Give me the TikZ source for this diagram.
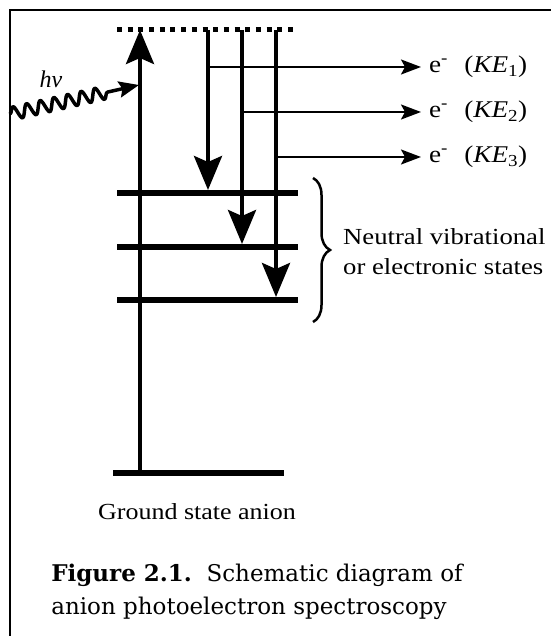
\documentclass[tikz,border=0pt]{standalone}
\usepackage{fontspec}
\newfontfamily\tnr{Liberation Serif}
\newfontfamily\capf{DejaVu Serif}
\usetikzlibrary{arrows.meta,decorations.pathmorphing,decorations.pathreplacing}
\newcommand\sx[1]{\scalebox{1.13}[1]{#1}}
\newcommand\sxx[1]{\scalebox{1.16}[1]{#1}}
\begin{document}
\begin{tikzpicture}[x=1pt,y=-1pt,
  frame/.style={line width=2pt},
  level/.style={line width=6pt},
  vline/.style={line width=4pt},
  bigarrow/.style={vline,-{Stealth[length=34pt,width=28pt,inset=6pt]}},
  branch/.style={line width=2pt,-{Stealth[length=20pt,width=15pt,inset=4pt]}},
  dotline/.style={line width=5pt,dash pattern=on 5pt off 5.69pt},
  lbl/.style={font=\tnr\fontsize{23}{30}\selectfont,inner sep=0pt},
  elbl/.style={font=\tnr\fontsize{24}{30}\selectfont,inner sep=0pt,anchor=west},
  captext/.style={font=\capf\fontsize{23}{33}\selectfont,inner sep=0pt}]
\useasboundingbox (0,0) rectangle (551,636);
% frame
\coordinate (fbl) at (10,636);
\coordinate (ftl) at (10,10);
\coordinate (ftr) at (551,10);
\draw[frame] (fbl) -- (ftl) -- (ftr);
% levels
\coordinate (tl) at (117,30); \coordinate (tr) at (293,30);
\coordinate (l1a) at (117,193); \coordinate (l1b) at (298,193);
\coordinate (l2a) at (117,247); \coordinate (l2b) at (298,247);
\coordinate (l3a) at (117,300); \coordinate (l3b) at (298,300);
\coordinate (ga) at (113,473); \coordinate (gb) at (284,473);
\draw[dotline] (tl) -- (tr);
\draw[level] (l1a) -- (l1b);
\draw[level] (l2a) -- (l2b);
\draw[level] (l3a) -- (l3b);
\draw[level] (ga) -- (gb);
% excitation
\coordinate (ub) at (140,473); \coordinate (ut) at (140,30);
\draw[bigarrow] (ub) -- (ut);
% detachment arrows
\coordinate (d1t) at (208,30); \coordinate (d1b) at (208,190);
\coordinate (d2t) at (242,30); \coordinate (d2b) at (242,244);
\coordinate (d3t) at (276,30); \coordinate (d3b) at (276,297);
\draw[bigarrow] (d1t) -- (d1b);
\draw[bigarrow] (d2t) -- (d2b);
\draw[bigarrow] (d3t) -- (d3b);
% electron branches
\coordinate (b1s) at (208,67); \coordinate (b1e) at (421,67);
\coordinate (b2s) at (242,112); \coordinate (b2e) at (421,112);
\coordinate (b3s) at (276,157); \coordinate (b3e) at (421,157);
\draw[branch] (b1s) -- (b1e);
\draw[branch] (b2s) -- (b2e);
\draw[branch] (b3s) -- (b3e);
\node[elbl] (e1) at (429,67) {\sx{e\textsuperscript{-}\hspace{0.6em}(\textit{KE}\textsubscript{1})}};
\node[elbl] (e2) at (429,112) {\sx{e\textsuperscript{-}\hspace{0.6em}(\textit{KE}\textsubscript{2})}};
\node[elbl] (e3) at (429,157) {\sx{e\textsuperscript{-}\hspace{0.6em}(\textit{KE}\textsubscript{3})}};
% photon
\coordinate (ws) at (10,114); \coordinate (we) at (139,85);
\draw[line width=3.5pt,line join=round,decorate,decoration={snake,amplitude=6.5pt,segment length=14pt,post length=26pt},
  -{Stealth[length=20pt,width=16pt,inset=3pt]}] (ws) -- (we);
\node[lbl,font=\tnr\fontsize{24}{30}\selectfont] (hv) at (51,79) {\itshape hν};
% brace
\coordinate (br1) at (313,178); \coordinate (br2) at (313,322);
\draw[line width=2.5pt,decorate,decoration={brace,amplitude=17pt}] (br1) -- (br2);
\node[lbl,anchor=west] (neutral) at (343,253) {\sxx{\begin{tabular}{@{}l@{}}Neutral vibrational\\or electronic states\end{tabular}}};
\node[lbl] (gsa) at (197,512) {\sx{Ground state anion}};
% caption
\node[captext] (cap1) at (257,575) {\textbf{Figure 2.1.}\ \ Schematic diagram of};
\node[captext] (cap2) at (249,608) {anion photoelectron spectroscopy};
\end{tikzpicture}
\end{document}
